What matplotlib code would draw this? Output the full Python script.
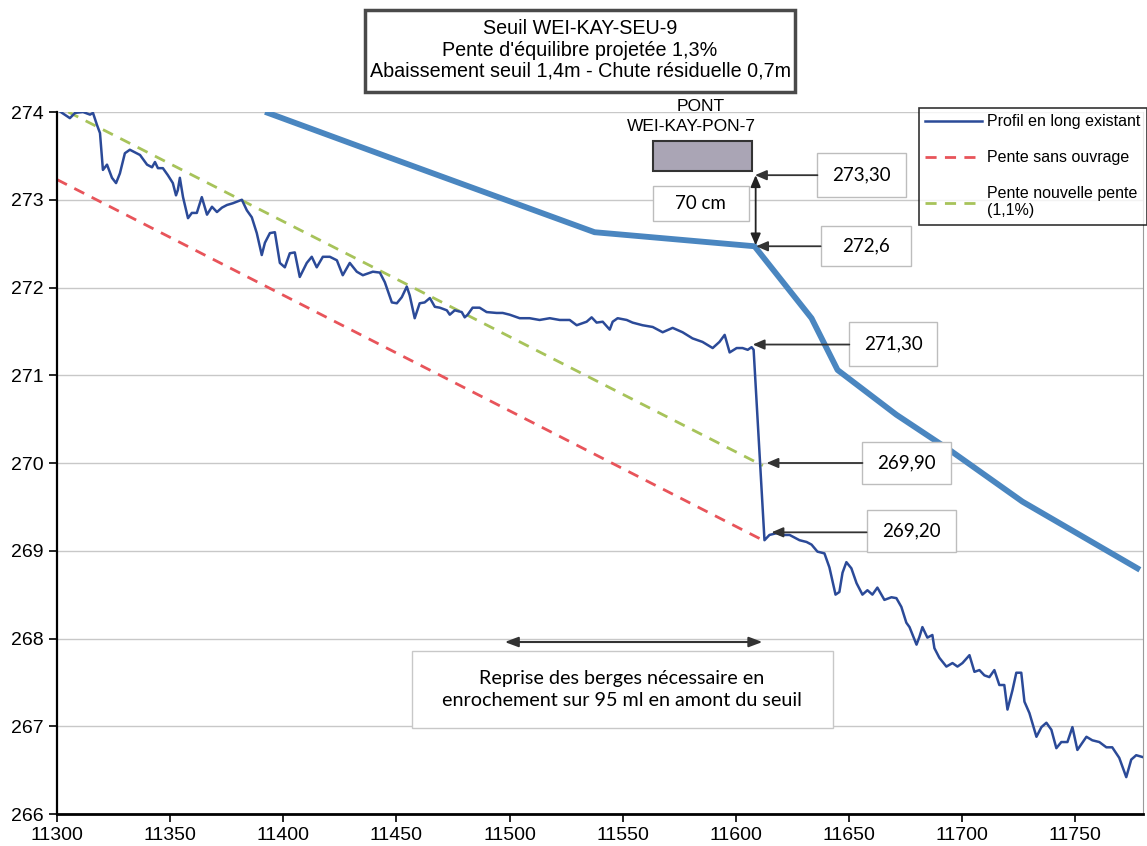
import matplotlib
matplotlib.use("Agg")
import matplotlib.pyplot as plt
from matplotlib.patches import Rectangle

# profil en long existant (levé détaillé)
prof_x = [11300.5, 11305.7, 11308.0, 11311.5, 11314.6, 11315.9, 11317.7, 11319.0, 11320.3, 11322.1,
          11324.3, 11326.1, 11327.8, 11330.0, 11332.2, 11334.5, 11336.7, 11339.8, 11342.0, 11343.3,
          11344.6, 11346.8, 11349.0, 11351.2, 11352.6, 11353.4, 11354.3, 11355.7, 11357.9, 11359.6,
          11361.8, 11364.0, 11366.3, 11368.5, 11370.7, 11372.9, 11375.1, 11377.7, 11381.7, 11383.9,
          11386.1, 11388.3, 11390.5, 11391.9, 11394.1, 11396.3, 11398.5, 11400.7, 11402.9, 11405.1,
          11407.3, 11410.4, 11412.6, 11414.8, 11417.5, 11420.6, 11423.7, 11426.3, 11429.4, 11432.5,
          11435.2, 11439.6, 11442.7, 11444.9, 11448.0, 11450.2, 11452.4, 11454.6, 11455.9, 11458.1,
          11460.3, 11462.5, 11464.8, 11467.0, 11469.2, 11472.3, 11473.6, 11475.8, 11478.9, 11480.2,
          11481.5, 11483.7, 11486.8, 11489.9, 11494.3, 11497.0, 11500.1, 11504.5, 11508.9, 11513.3,
          11517.8, 11522.2, 11526.6, 11529.7, 11534.1, 11536.3, 11538.5, 11541.2, 11544.3, 11545.6,
          11547.8, 11551.8, 11554.4, 11558.8, 11563.3, 11567.7, 11572.1, 11576.5, 11580.9, 11585.3,
          11589.8, 11592.8, 11595.1, 11597.3, 11600.4, 11603.0, 11605.3, 11607.0, 11607.9, 11612.7,
          11614.9, 11618.0, 11620.7, 11623.8, 11628.2, 11631.3, 11633.5, 11636.1, 11639.2, 11641.4,
          11644.1, 11645.8, 11647.2, 11648.9, 11651.1, 11653.4, 11656.0, 11658.2, 11660.4, 11662.6,
          11665.7, 11668.8, 11671.0, 11673.2, 11675.4, 11676.8, 11679.9, 11681.2, 11682.5, 11684.7,
          11686.9, 11687.8, 11690.0, 11693.1, 11695.8, 11698.0, 11700.2, 11703.3, 11705.5, 11707.7,
          11709.9, 11712.1, 11714.3, 11716.5, 11718.7, 11720.1, 11722.3, 11724.0, 11726.2, 11727.6,
          11729.8, 11732.9, 11735.1, 11737.3, 11739.5, 11741.7, 11743.9, 11746.6, 11748.8, 11751.0,
          11755.0, 11757.6, 11760.7, 11763.8, 11766.4, 11769.5, 11772.6, 11774.8, 11777.0, 11779.7]
prof_z = [274.02, 273.93, 273.99, 274.00, 273.97, 273.99, 273.85, 273.76, 273.34, 273.40,
          273.25, 273.19, 273.30, 273.53, 273.57, 273.54, 273.51, 273.40, 273.37, 273.43,
          273.36, 273.36, 273.28, 273.19, 273.05, 273.11, 273.25, 273.03, 272.79, 272.85,
          272.85, 273.03, 272.83, 272.92, 272.86, 272.91, 272.94, 272.96, 273.00, 272.88,
          272.80, 272.62, 272.37, 272.51, 272.62, 272.63, 272.28, 272.23, 272.39, 272.40,
          272.12, 272.28, 272.35, 272.23, 272.35, 272.35, 272.31, 272.14, 272.28, 272.18,
          272.14, 272.18, 272.17, 272.06, 271.83, 271.82, 271.89, 272.01, 271.91, 271.65,
          271.82, 271.83, 271.88, 271.78, 271.77, 271.74, 271.69, 271.74, 271.72, 271.66,
          271.69, 271.77, 271.77, 271.72, 271.71, 271.71, 271.69, 271.65, 271.65, 271.63,
          271.65, 271.63, 271.63, 271.57, 271.61, 271.66, 271.60, 271.61, 271.52, 271.61,
          271.65, 271.63, 271.60, 271.57, 271.55, 271.49, 271.54, 271.49, 271.42, 271.38,
          271.31, 271.38, 271.46, 271.26, 271.31, 271.31, 271.29, 271.32, 271.29, 269.12,
          269.18, 269.20, 269.18, 269.18, 269.12, 269.10, 269.07, 268.99, 268.97, 268.81,
          268.50, 268.53, 268.75, 268.87, 268.80, 268.63, 268.50, 268.55, 268.50, 268.58,
          268.44, 268.47, 268.46, 268.36, 268.18, 268.13, 267.93, 268.02, 268.13, 268.01,
          268.04, 267.89, 267.78, 267.68, 267.72, 267.68, 267.72, 267.81, 267.62, 267.64,
          267.58, 267.56, 267.64, 267.47, 267.47, 267.19, 267.41, 267.61, 267.61, 267.28,
          267.15, 266.88, 266.99, 267.04, 266.96, 266.75, 266.82, 266.82, 266.99, 266.73,
          266.88, 266.84, 266.82, 266.76, 266.76, 266.64, 266.42, 266.62, 266.67, 266.65]

# profil projeté (trait épais)
proj_x = [11393.2, 11447.1, 11537.6, 11608.3, 11633.5, 11645.0, 11671.0, 11694.4, 11726.7, 11777.5]
proj_z = [273.99, 273.48, 272.63, 272.47, 271.65, 271.06, 270.55, 270.15, 269.56, 268.80]

# pentes
sans_x = [11300, 11612]
sans_z = [273.23, 269.12]
nouv_x = [11305, 11612]
nouv_z = [274.00, 269.97]

# pont
pont_x = [11563.3, 11607.0]
pont_z = [273.33, 273.67]

FIG_W, FIG_H = 1147, 846
fig = plt.figure(figsize=(FIG_W / 100, FIG_H / 100), dpi=100)
ax = fig.add_axes([57 / FIG_W, 1 - 814 / FIG_H, (1143 - 57) / FIG_W, (814 - 112) / FIG_H])

ARIAL = ["Liberation Sans Narrow", "Liberation Sans", "DejaVu Sans"]
SANS = ["Liberation Sans", "DejaVu Sans"]
CALI = ["Lato", "DejaVu Sans"]

ax.plot(proj_x, proj_z, color="#4a86c0", lw=4.2, solid_joinstyle="round", zorder=3)
ax.plot(prof_x, prof_z, color="#2b4a98", lw=1.8, label="Profil en long existant", zorder=4)
ax.plot(sans_x, sans_z, color="#e8545a", lw=2, ls=(0, (4, 3)), label="Pente sans ouvrage", zorder=2)
ax.plot(nouv_x, nouv_z, color="#a7c35a", lw=2, ls=(0, (4, 3)), label="Pente nouvelle pente\n(1,1%)", zorder=2)

ax.add_patch(Rectangle((pont_x[0], pont_z[0]), pont_x[1] - pont_x[0], pont_z[1] - pont_z[0],
                       facecolor="#aaa5b5", edgecolor="#333333", lw=1.5, zorder=3))
ax.text(11584.4, 274.06, "PONT", ha="center", va="center", fontsize=12.5, family=SANS, clip_on=False)
ax.text(11580.5, 273.83, "WEI-KAY-PON-7", ha="center", va="center", fontsize=12.5, family=SANS)

ax.set_xlim(11300, 11780)
ax.set_ylim(266, 274)
ax.set_xticks(range(11300, 11751, 50))
ax.set_yticks(range(266, 275))
ax.grid(axis="y", color="#c8c8c8", lw=1)
ax.set_axisbelow(True)
ax.spines["top"].set_visible(False)
ax.spines["right"].set_color("#9a9a9a")
ax.spines["left"].set_linewidth(1.6)
ax.spines["bottom"].set_linewidth(2)
ax.tick_params(axis="both", direction="out", length=6, width=1.2, labelsize=14)
for lab in ax.get_xticklabels() + ax.get_yticklabels():
    lab.set_family(ARIAL)


def callout(txt, box, tip, ytxt):
    x0, x1, y0, y1 = box
    ax.add_patch(Rectangle((x0, y0), x1 - x0, y1 - y0, facecolor="white",
                           edgecolor="#bdbdbd", lw=1, zorder=5))
    ax.text((x0 + x1) / 2, (y0 + y1) / 2, txt, ha="center", va="center",
            fontsize=13.5, family=CALI, zorder=6)
    ax.annotate("", xy=tip, xytext=(x0, ytxt), zorder=6,
                arrowprops=dict(arrowstyle="-|>,head_length=0.7,head_width=0.3",
                                color="#333333", lw=1.3, shrinkA=0, shrinkB=0))


callout("273,30", (11636.1, 11675.4, 273.03, 273.53), (11608.5, 273.28), 273.28)
callout("272,6", (11637.5, 11677.6, 272.25, 272.70), (11609.0, 272.47), 272.47)
callout("271,30", (11650.2, 11689.0, 271.11, 271.61), (11607.5, 271.35), 271.35)
callout("269,90", (11656.0, 11695.3, 269.76, 270.24), (11613.6, 270.00), 270.00)
callout("269,20", (11657.8, 11697.5, 268.99, 269.46), (11615.8, 269.21), 269.21)

# 70 cm
ax.add_patch(Rectangle((11563.3, 272.76), 11605.7 - 11563.3, 273.16 - 272.76, facecolor="white",
                       edgecolor="#bdbdbd", lw=1, zorder=5))
ax.text(11584.5, 272.96, "70 cm", ha="center", va="center", fontsize=13.5, family=CALI, zorder=6)
ax.annotate("", xy=(11608.8, 273.28), xytext=(11608.8, 272.48), zorder=6,
            arrowprops=dict(arrowstyle="<|-|>,head_length=0.7,head_width=0.3",
                            color="#222222", lw=1.3, shrinkA=0, shrinkB=0))

# reprise des berges
ax.add_patch(Rectangle((11456.8, 266.98), 11642.8 - 11456.8, 267.86 - 266.98, facecolor="white",
                       edgecolor="#c8c8c8", lw=1, zorder=5))
ax.text(11549.6, 267.42, "Reprise des berges nécessaire en\nenrochement sur 95 ml en amont du seuil",
        ha="center", va="center", fontsize=14.2, family=CALI, linespacing=1.4, zorder=6)
ax.annotate("", xy=(11497.9, 267.96), xytext=(11611.8, 267.96), zorder=6,
            arrowprops=dict(arrowstyle="<|-|>,head_length=0.8,head_width=0.3",
                            color="#333333", lw=1.5, shrinkA=0, shrinkB=0))

# titre encadré
fig.patches.append(Rectangle((365 / FIG_W, 1 - 92 / FIG_H), 430 / FIG_W, 82 / FIG_H,
                             transform=fig.transFigure, facecolor="white",
                             edgecolor="#4a4a4a", lw=2.5))
fig.text(580 / FIG_W, 1 - 50 / FIG_H,
         "Seuil WEI-KAY-SEU-9\nPente d'équilibre projetée 1,3%\nAbaissement seuil 1,4m - Chute résiduelle 0,7m",
         ha="center", va="center", fontsize=14.2, family=SANS, linespacing=1.14)

leg = ax.legend(loc="upper right", bbox_to_anchor=(1147 / FIG_W, 1 - 108 / FIG_H),
                bbox_transform=fig.transFigure, frameon=True, fancybox=False,
                fontsize=11.5, handlelength=3.6, labelspacing=1.3, borderpad=0.4,
                handletextpad=0.3, borderaxespad=0)
leg.get_frame().set_edgecolor("black")
leg.get_frame().set_linewidth(1.2)
for t in leg.get_texts():
    t.set_family(SANS)

fig.savefig("out.png", dpi=100)
